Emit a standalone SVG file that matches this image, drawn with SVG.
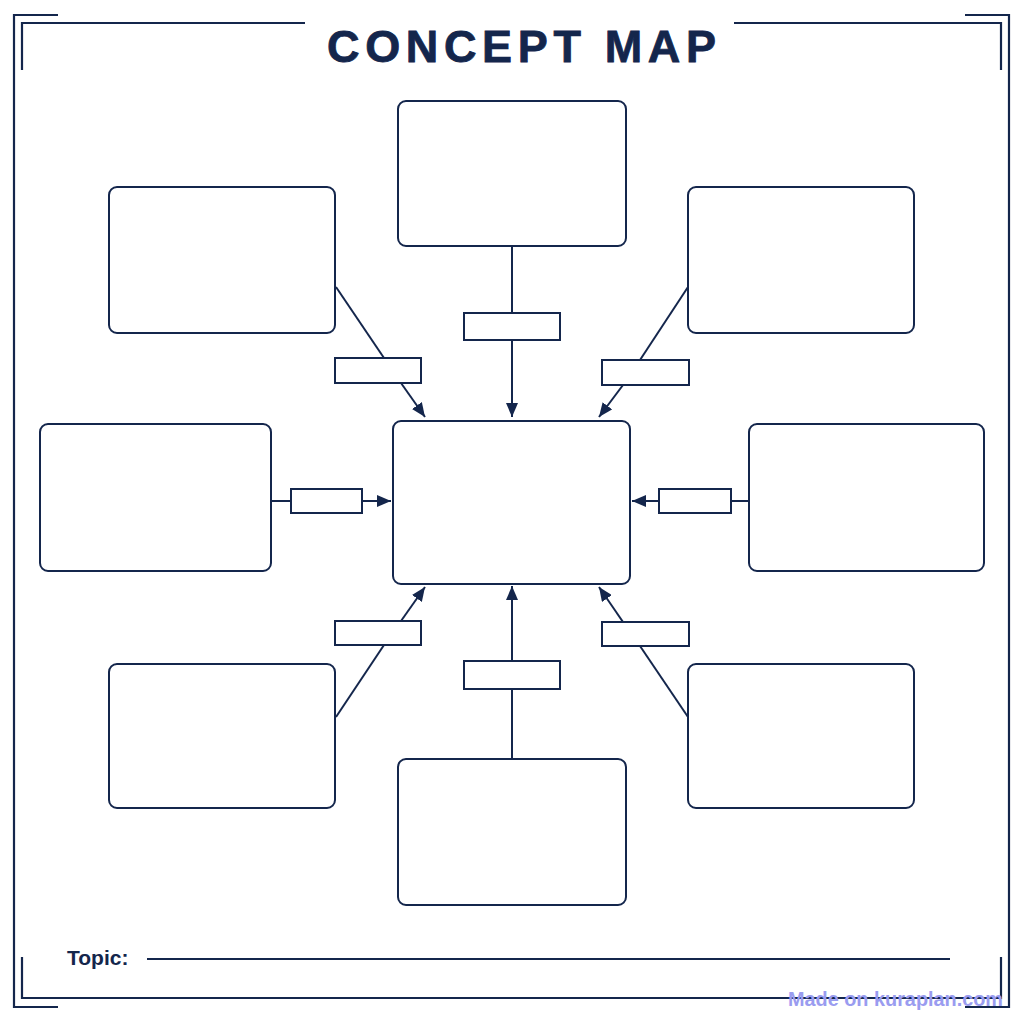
<svg xmlns="http://www.w3.org/2000/svg" width="1024" height="1024" viewBox="0 0 1024 1024">
<style>
.fr{fill:none;stroke:#14264c;stroke-width:2.2}
.nd{fill:#ffffff;stroke:#14264c;stroke-width:2}
.lb{fill:#ffffff;stroke:#14264c;stroke-width:2}
.cn{fill:none;stroke:#14264c;stroke-width:2}
.title{font-family:"Liberation Sans",Arial,sans-serif;font-weight:bold;font-size:45px;fill:#14264c;stroke:#14264c;stroke-width:0.8}
.topic{font-family:"Liberation Sans",Arial,sans-serif;font-weight:bold;font-size:21px;fill:#14264c}
.wm{font-family:"Liberation Sans",Arial,sans-serif;font-weight:bold;font-size:20px;fill:#9a9cf0}
</style>
<defs>
<marker id="ah" markerUnits="userSpaceOnUse" markerWidth="14" markerHeight="12" refX="14" refY="6" orient="auto">
<path d="M0,0 L14,6 L0,12 z" fill="#14264c"/>
</marker>
</defs>
<rect width="1024" height="1024" fill="#ffffff"/>
<g id="frame">
<path class="fr" d="M58,15 H14 V1007 H58"/>
<path class="fr" d="M965,15 H1009 V1007 H965"/>
<path class="fr" d="M22,70 V23 H305"/>
<path class="fr" d="M734,23 H1001 V70"/>
<path class="fr" d="M22,957 V998 H1001 V957"/>
</g>
<text class="title" x="327" y="62" textLength="389" lengthAdjust="spacing">CONCEPT MAP</text>
<g id="connectors">
<line class="cn" x1="512" y1="246" x2="512" y2="313"/>
<line class="cn" x1="512" y1="340" x2="512" y2="417" marker-end="url(#ah)"/>
<line class="cn" x1="336" y1="287" x2="384" y2="358"/>
<line class="cn" x1="401" y1="383" x2="425" y2="417" marker-end="url(#ah)"/>
<line class="cn" x1="688" y1="287" x2="640" y2="360"/>
<line class="cn" x1="623" y1="385" x2="599" y2="417" marker-end="url(#ah)"/>
<line class="cn" x1="271" y1="501" x2="291" y2="501"/>
<line class="cn" x1="362" y1="501" x2="391" y2="501" marker-end="url(#ah)"/>
<line class="cn" x1="749" y1="501" x2="731" y2="501"/>
<line class="cn" x1="659" y1="501" x2="632" y2="501" marker-end="url(#ah)"/>
<line class="cn" x1="336" y1="717" x2="384" y2="645"/>
<line class="cn" x1="401" y1="621" x2="425" y2="587" marker-end="url(#ah)"/>
<line class="cn" x1="688" y1="717" x2="640" y2="646"/>
<line class="cn" x1="623" y1="622" x2="599" y2="587" marker-end="url(#ah)"/>
<line class="cn" x1="512" y1="759" x2="512" y2="689"/>
<line class="cn" x1="512" y1="661" x2="512" y2="586" marker-end="url(#ah)"/>
</g>
<g id="node-top"><rect class="nd" x="398" y="101" width="228" height="145" rx="8"/></g>
<g id="node-topleft"><rect class="nd" x="109" y="187" width="226" height="146" rx="8"/></g>
<g id="node-topright"><rect class="nd" x="688" y="187" width="226" height="146" rx="8"/></g>
<g id="node-left"><rect class="nd" x="40" y="424" width="231" height="147" rx="8"/></g>
<g id="node-center"><rect class="nd" x="393" y="421" width="237" height="163" rx="8"/></g>
<g id="node-right"><rect class="nd" x="749" y="424" width="235" height="147" rx="8"/></g>
<g id="node-bottomleft"><rect class="nd" x="109" y="664" width="226" height="144" rx="8"/></g>
<g id="node-bottomright"><rect class="nd" x="688" y="664" width="226" height="144" rx="8"/></g>
<g id="node-bottom"><rect class="nd" x="398" y="759" width="228" height="146" rx="8"/></g>
<g id="label-top"><rect class="lb" x="464" y="313" width="96" height="27"/></g>
<g id="label-topleft"><rect class="lb" x="335" y="358" width="86" height="25"/></g>
<g id="label-topright"><rect class="lb" x="602" y="360" width="87" height="25"/></g>
<g id="label-left"><rect class="lb" x="291" y="489" width="71" height="24"/></g>
<g id="label-right"><rect class="lb" x="659" y="489" width="72" height="24"/></g>
<g id="label-bottomleft"><rect class="lb" x="335" y="621" width="86" height="24"/></g>
<g id="label-bottomright"><rect class="lb" x="602" y="622" width="87" height="24"/></g>
<g id="label-bottom"><rect class="lb" x="464" y="661" width="96" height="28"/></g>
<g id="topic">
<text class="topic" x="67" y="965">Topic:</text>
<line class="cn" x1="147" y1="959" x2="950" y2="959"/>
</g>
<text class="wm" x="788" y="1006" textLength="215" lengthAdjust="spacingAndGlyphs">Made on kuraplan.com</text>
</svg>
